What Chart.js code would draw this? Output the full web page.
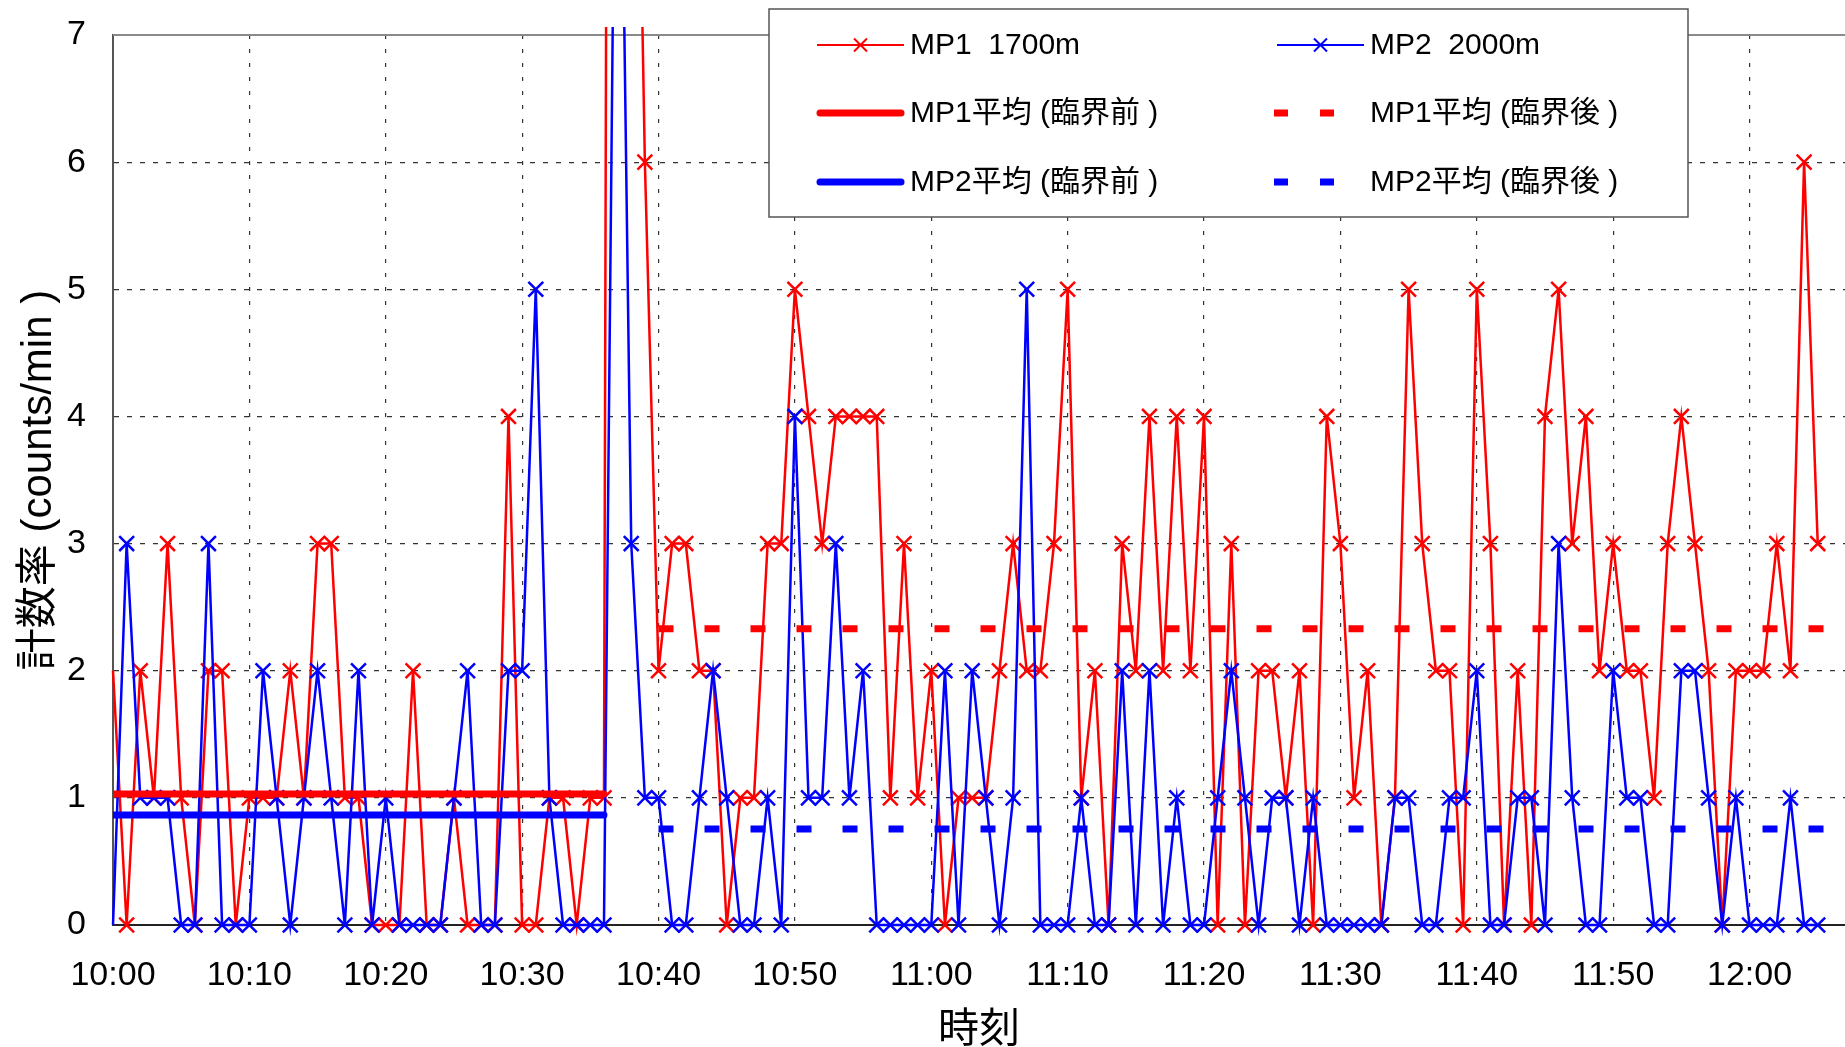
<!DOCTYPE html>
<html><head><meta charset="utf-8">
<script src="https://cdn.jsdelivr.net/npm/chart.js@4"></script>
<style>html,body{margin:0;padding:0;background:#fff}canvas{display:block}</style>
</head><body>
<canvas id="c" width="1845" height="1047"></canvas>
<script>
// ---- data (minutes after 10:00, one value per minute from 10:00 to 12:05) ----
const xTickValues = [0, 10, 20, 30, 40, 50, 60, 70, 80, 90, 100, 110, 120];
const xTickLabels = ['10:00','10:10','10:20','10:30','10:40','10:50','11:00','11:10','11:20','11:30','11:40','11:50','12:00'];
const yTickValues = [0, 1, 2, 3, 4, 5, 6, 7];
const xRange = [0, 127];
const mp1Counts = [
  2,0,2,1,3,1,0,2,2,0,  1,1,1,2,1,3,3,1,1,0,
  0,0,2,0,0,1,0,0,0,4,  0,0,1,1,0,1,1,40,12,6,
  2,3,3,2,2,0,1,1,3,3,  5,4,3,4,4,4,4,1,3,1,
  2,0,1,1,1,2,3,2,2,3,  5,1,2,0,3,2,4,2,4,2,
  4,0,3,0,2,2,1,2,0,4,  3,1,2,0,1,5,3,2,2,0,
  5,3,0,2,0,4,5,3,4,2,  3,2,2,1,3,4,3,2,0,2,
  2,2,3,2,6,3
];
const mp2Counts = [
  0,3,1,1,1,0,0,3,0,0,  0,2,1,0,1,2,1,0,2,0,
  1,0,0,0,0,1,2,0,0,2,  2,5,1,0,0,0,0,11,3,1,
  1,0,0,1,2,1,0,0,1,0,  4,1,1,3,1,2,0,0,0,0,
  0,2,0,2,1,0,1,5,0,0,  0,1,0,0,2,0,2,0,1,0,
  0,1,2,1,0,1,1,0,1,0,  0,0,0,0,1,1,0,0,1,1,
  2,0,0,1,1,0,3,1,0,0,  2,1,1,0,0,2,2,1,0,1,
  0,0,0,1,0,0
];
const seriesLabels = ['MP1  1700m', 'MP2  2000m'];
const avgLabels = ['MP1平均 (臨界前 )', 'MP1平均 (臨界後 )', 'MP2平均 (臨界前 )', 'MP2平均 (臨界後 )'];
const mp1Average = [1.03, 2.33];   // before, after critical
const mp2Average = [0.865, 0.756];
const preRange = [0, 36];
const postRange = [40, 127];
const yTitle = '計数率 (counts/min )';
const xTitle = '時刻';

// ---- styles ----
const RED = '#ff0000', BLUE = '#0000ff';
const FONT = '"Liberation Sans", Arial, "Noto Sans CJK JP", sans-serif';
const toPts = arr => arr.map((v, i) => ({x: i, y: v}));
const seg = (range, v) => [{x: range[0], y: v}, {x: range[1], y: v}];
const markerR = c => c.dataIndex === 0 ? 0 : 10.5;

const datasets = [
  {label: seriesLabels[0], data: toPts(mp1Counts), borderColor: RED, backgroundColor: RED,
   borderWidth: 2.5, pointStyle: 'crossRot', pointRadius: markerR, pointBorderWidth: 2.5,
   pointBorderColor: RED, order: 3, clip: {left: 15, right: 15, top: 8, bottom: 15}, kind: 'data'},
  {label: seriesLabels[1], data: toPts(mp2Counts), borderColor: BLUE, backgroundColor: BLUE,
   borderWidth: 2.5, pointStyle: 'crossRot', pointRadius: markerR, pointBorderWidth: 2.5,
   pointBorderColor: BLUE, order: 2, clip: {left: 15, right: 15, top: 8, bottom: 15}, kind: 'data'},
  {label: avgLabels[0], data: seg(preRange, mp1Average[0]), borderColor: RED, borderWidth: 7,
   borderCapStyle: 'round', pointRadius: 0, order: 1, kind: 'solid'},
  {label: avgLabels[1], data: seg(postRange, mp1Average[1]), borderColor: RED, borderWidth: 7,
   borderDash: [15, 31], pointRadius: 0, order: 1, kind: 'dash'},
  {label: avgLabels[2], data: seg(preRange, mp2Average[0]), borderColor: BLUE, borderWidth: 7,
   borderCapStyle: 'round', pointRadius: 0, order: 0, kind: 'solid'},
  {label: avgLabels[3], data: seg(postRange, mp2Average[1]), borderColor: BLUE, borderWidth: 7,
   borderDash: [15, 31], pointRadius: 0, order: 0, kind: 'dash'}
];

// top border of plot area
const framePlugin = {
  id: 'frame',
  beforeDatasetsDraw(chart) {
    const {ctx, chartArea: a} = chart;
    ctx.save();
    ctx.strokeStyle = '#8a8a8a';
    ctx.lineWidth = 2;
    ctx.beginPath();
    ctx.moveTo(a.left, a.top);
    ctx.lineTo(a.right, a.top);
    ctx.stroke();
    ctx.restore();
  }
};

// boxed two-column legend
const legendBox = {
  id: 'legendBox',
  afterDraw(chart) {
    const ctx = chart.ctx;
    const box = {x: 769, y: 9, w: 919, h: 208};
    const colX = [817, 1277], lineLen = 87, textGap = 6;
    const rowY = [45, 113, 182];
    ctx.save();
    ctx.fillStyle = '#fff';
    ctx.fillRect(box.x, box.y, box.w, box.h);
    ctx.strokeStyle = '#555';
    ctx.lineWidth = 1.5;
    ctx.strokeRect(box.x, box.y, box.w, box.h);
    ctx.font = '30px ' + FONT;
    ctx.textBaseline = 'middle';
    ctx.textAlign = 'left';
    chart.data.datasets.forEach((ds, k) => {
      const x0 = colX[k % 2], y = rowY[Math.floor(k / 2)];
      ctx.strokeStyle = ds.borderColor;
      ctx.lineCap = 'butt';
      ctx.setLineDash([]);
      if (ds.kind === 'data') {
        ctx.lineWidth = 2;
        ctx.beginPath(); ctx.moveTo(x0, y); ctx.lineTo(x0 + lineLen, y); ctx.stroke();
        const cx = x0 + lineLen / 2, r = 6.5;
        ctx.lineWidth = 2;
        ctx.beginPath();
        ctx.moveTo(cx - r, y - r); ctx.lineTo(cx + r, y + r);
        ctx.moveTo(cx + r, y - r); ctx.lineTo(cx - r, y + r);
        ctx.stroke();
      } else if (ds.kind === 'solid') {
        ctx.lineWidth = 7; ctx.lineCap = 'round';
        ctx.beginPath(); ctx.moveTo(x0 + 3, y); ctx.lineTo(x0 + lineLen - 3, y); ctx.stroke();
      } else {
        ctx.lineWidth = 7;
        ctx.setLineDash([14, 32]);
        ctx.beginPath(); ctx.moveTo(x0 - 3, y); ctx.lineTo(x0 + lineLen, y); ctx.stroke();
        ctx.setLineDash([]);
      }
      ctx.fillStyle = '#000';
      ctx.fillText(ds.label, x0 + lineLen + textGap, y + 1);
    });
    ctx.restore();
  }
};

new Chart(document.getElementById('c'), {
  type: 'line',
  data: {datasets},
  options: {
    responsive: false,
    animation: false,
    devicePixelRatio: 1,
    layout: {autoPadding: false, padding: {top: 35, right: 0, left: 0, bottom: 0}},
    plugins: {legend: {display: false}, tooltip: {enabled: false}},
    elements: {line: {tension: 0}},
    scales: {
      x: {
        type: 'linear', min: xRange[0], max: xRange[1],
        afterFit: s => { s.height = 122; s.paddingLeft = 0; s.paddingRight = 0; },
        afterBuildTicks: s => { s.ticks = xTickValues.map(v => ({value: v})); },
        ticks: {
          callback: v => xTickLabels[xTickValues.indexOf(v)],
          font: {family: FONT, size: 34}, color: '#000', padding: 30, maxRotation: 0, autoSkip: false
        },
        grid: {color: '#333', lineWidth: 1.2, drawTicks: false},
        border: {display: true, color: '#222', width: 2, dash: [4, 10]},
        title: {display: true, text: xTitle, color: '#000',
                font: {family: FONT, size: 41, lineHeight: 0.7}, padding: {top: 0, bottom: 2}}
      },
      y: {
        type: 'linear', min: 0, max: 7,
        afterFit: s => { s.width = 113; s.paddingTop = 0; s.paddingBottom = 0; },
        afterBuildTicks: s => { s.ticks = yTickValues.map(v => ({value: v})); },
        ticks: {
          callback: v => String(v),
          font: {family: FONT, size: 34}, color: '#000', padding: 27
        },
        grid: {color: '#333', lineWidth: 1.2, drawTicks: false},
        border: {display: true, color: '#555', width: 2, dash: [5, 8]},
        title: {display: true, text: yTitle, color: '#000',
                font: {family: FONT, size: 42, lineHeight: 1.2}, padding: {top: 14, bottom: 0}}
      }
    }
  },
  plugins: [framePlugin, legendBox]
});
</script>
</body></html>
